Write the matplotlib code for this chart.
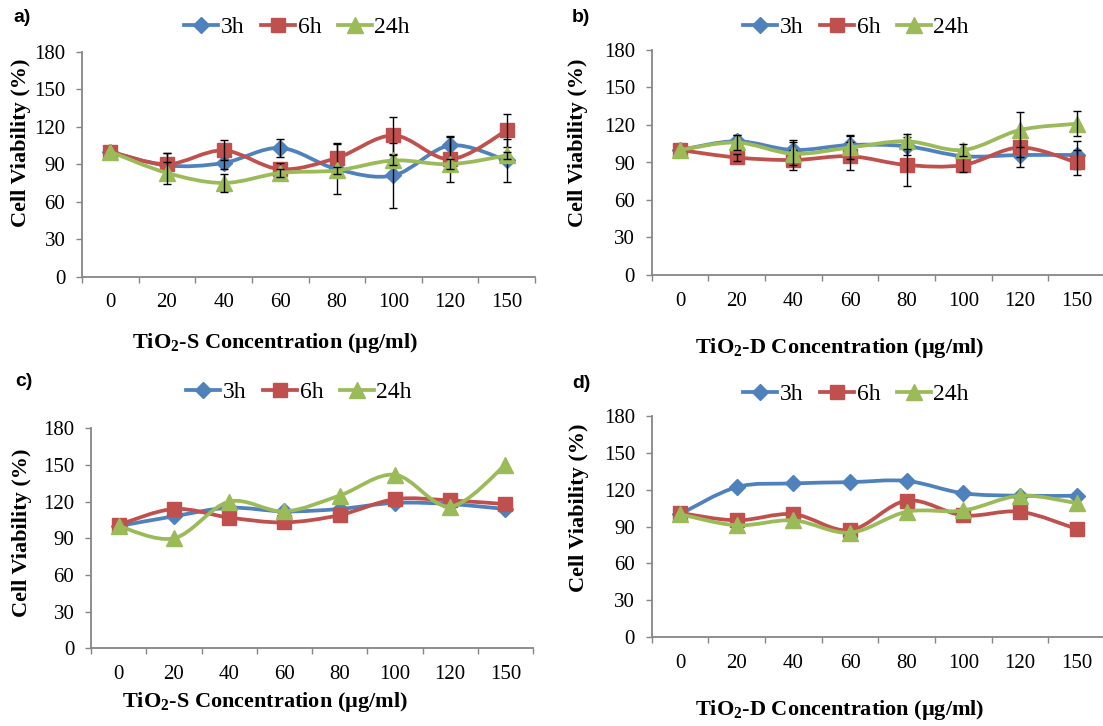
import numpy as np
import matplotlib
matplotlib.use('Agg')
import matplotlib.pyplot as plt
from matplotlib.path import Path
from matplotlib.patches import PathPatch
from matplotlib.lines import Line2D

plt.rcParams['font.family'] = 'Liberation Serif'
plt.rcParams['mathtext.fontset'] = 'custom'
plt.rcParams['mathtext.rm'] = 'Liberation Serif'
plt.rcParams['mathtext.bf'] = 'Liberation Serif:bold'

# ---- data ----
conc = ['0', '20', '40', '60', '80', '100', '120', '150']
series_names = ['3h', '6h', '24h']

a_3h  = [100, 89, 91, 103, 86, 81, 105, 93]
a_6h  = [100, 90, 101, 86, 95, 113, 94, 117]
a_24h = [100, 83, 75, 83, 85, 93, 90, 97]
a_3h_err  = [0, 10, 5, 7.5, 20, 26, 7.5, 17]
a_6h_err  = [0, 9, 8, 5, 12, 15, 18, 13]
a_24h_err = [0, 8.5, 7, 3, 3, 4, 4, 3]

b_3h  = [100, 107, 100, 104, 103, 95, 96, 96]
b_6h  = [100, 94, 92, 95, 88, 88, 102, 90]
b_24h = [100, 106, 97, 102, 107, 100, 116, 121]
b_3h_err  = [0, 5, 8, 8, 7, 3, 10, 11]
b_6h_err  = [0, 3, 8, 11, 17, 6, 8, 10]
b_24h_err = [0, 6, 9, 9, 6, 5, 14, 10]

c_3h  = [100, 108, 115, 112, 114, 119, 118, 114]
c_6h  = [101, 114, 107, 103, 109, 122, 121, 118]
c_24h = [100, 90, 120, 112, 125, 142, 116, 150]

d_3h  = [100, 122, 125, 126, 127, 117, 115, 115]
d_6h  = [101, 95, 100, 87, 111, 99, 102, 88]
d_24h = [100, 91, 95, 85, 102, 103, 115, 109]

xlab_S = r'TiO$_\mathbf{2}$-S Concentration (µg/ml)'
xlab_D = r'TiO$_\mathbf{2}$-D Concentration (µg/ml)'

# ---- style ----
colors  = ['#4F81BD', '#C0504D', '#9BBB59']
markers = ['D', 's', '^']
msizes  = [8, 10, 11]
LW = 2.7
GRAY = '#868686'

W, H = 1103, 726
fig = plt.figure(figsize=(W / 100, H / 100), dpi=100)


def fx(x):
    return x / W


def fy(y):
    return 1 - y / H


def smooth_path(xs, ys):
    # Excel-like smoothed line: Catmull-Rom through the points as cubic Beziers
    pts = np.column_stack([xs, ys]).astype(float)
    n = len(pts)
    verts = [pts[0]]
    codes = [Path.MOVETO]
    for i in range(n - 1):
        p0 = pts[max(i - 1, 0)]
        p1 = pts[i]
        p2 = pts[i + 1]
        p3 = pts[min(i + 2, n - 1)]
        verts += [p1 + (p2 - p0) / 6, p2 - (p3 - p1) / 6, p2]
        codes += [Path.CURVE4] * 3
    return Path(verts, codes)


# panel: tag, values, errors, xlabel, axes box (px: left, top, right, bottom),
# tag pos, ylabel pos, xlabel pos, legend pos
panels = [
    ('a)', [a_3h, a_6h, a_24h], [a_3h_err, a_6h_err, a_24h_err], xlab_S,
     (82, 51.7, 535, 276.7), (13, 18), (21, 143), (275, 343), (297, 27)),
    ('b)', [b_3h, b_6h, b_24h], [b_3h_err, b_6h_err, b_24h_err], xlab_D,
     (651.7, 50, 1105, 275), (572, 18), (578, 143), (840, 348), (856, 27)),
    ('c)', [c_3h, c_6h, c_24h], None, xlab_S,
     (91, 428.3, 533, 648.3), (15, 381), (22, 533), (265, 702), (299, 392)),
    ('d)', [d_3h, d_6h, d_24h], None, xlab_D,
     (651.7, 415.7, 1105, 637.3), (572, 384), (579, 508), (840, 710), (856, 394)),
]

x = np.arange(len(conc))

for tag, vals, errs, xlab, box, tagpos, ylpos, xlpos, legpos in panels:
    l, t, r, b = box
    ax = fig.add_axes([fx(l), fy(b), (r - l) / W, (b - t) / H])
    handles = []
    for i, (name, v) in enumerate(zip(series_names, vals)):
        z = 3 + i
        ax.add_patch(PathPatch(smooth_path(x, v), facecolor='none', edgecolor=colors[i],
                               lw=LW, capstyle='round', joinstyle='round', zorder=z))
        ax.plot(x, v, ls='none', marker=markers[i], ms=msizes[i], color=colors[i],
                mec=colors[i], zorder=z + 0.1)
        if errs is not None:
            e = np.array(errs[i], dtype=float)
            keep = e > 0
            ax.errorbar(x[keep], np.array(v)[keep], yerr=e[keep], fmt='none',
                        ecolor='black', elinewidth=1.0, capsize=3, capthick=1.0,
                        zorder=z + 0.2)
        handles.append(Line2D([], [], color=colors[i], lw=LW, marker=markers[i],
                              ms=msizes[i], mec=colors[i]))

    ax.set_xlim(-0.5, len(conc) - 0.5)
    ax.set_ylim(0, 180)
    ax.set_yticks(np.arange(0, 181, 30))
    ax.set_xticks(x)
    ax.set_xticklabels(conc)
    ax.set_xticks(np.arange(-0.5, len(conc)), minor=True)
    ax.tick_params(axis='x', which='major', length=0, pad=12, labelsize=15)
    ax.tick_params(axis='x', which='minor', length=4, width=1, color=GRAY, direction='out')
    ax.tick_params(axis='y', length=4, width=1, color=GRAY, direction='out',
                   pad=8, labelsize=15)
    for s in ['top', 'right']:
        ax.spines[s].set_visible(False)
    for s in ['left', 'bottom']:
        ax.spines[s].set_color(GRAY)
        ax.spines[s].set_linewidth(1.3)

    ax.legend(handles, series_names, loc='center', bbox_to_anchor=(fx(legpos[0]), fy(legpos[1])),
              bbox_transform=fig.transFigure, ncol=3, frameon=False, fontsize=17,
              numpoints=1, handlelength=1.45, handletextpad=0.1, columnspacing=0.7,
              borderpad=0, borderaxespad=0)

    fig.text(fx(tagpos[0]), fy(tagpos[1]), tag, family='Liberation Sans', weight='bold',
             fontsize=14, ha='left', va='center')
    fig.text(fx(ylpos[0]), fy(ylpos[1]), 'Cell Viability (%)', weight='bold', fontsize=16,
             rotation=90, ha='center', va='center')
    fig.text(fx(xlpos[0]), fy(xlpos[1]), xlab, weight='bold', fontsize=16,
             ha='center', va='center')

fig.savefig('out.png', dpi=100, facecolor='white')
